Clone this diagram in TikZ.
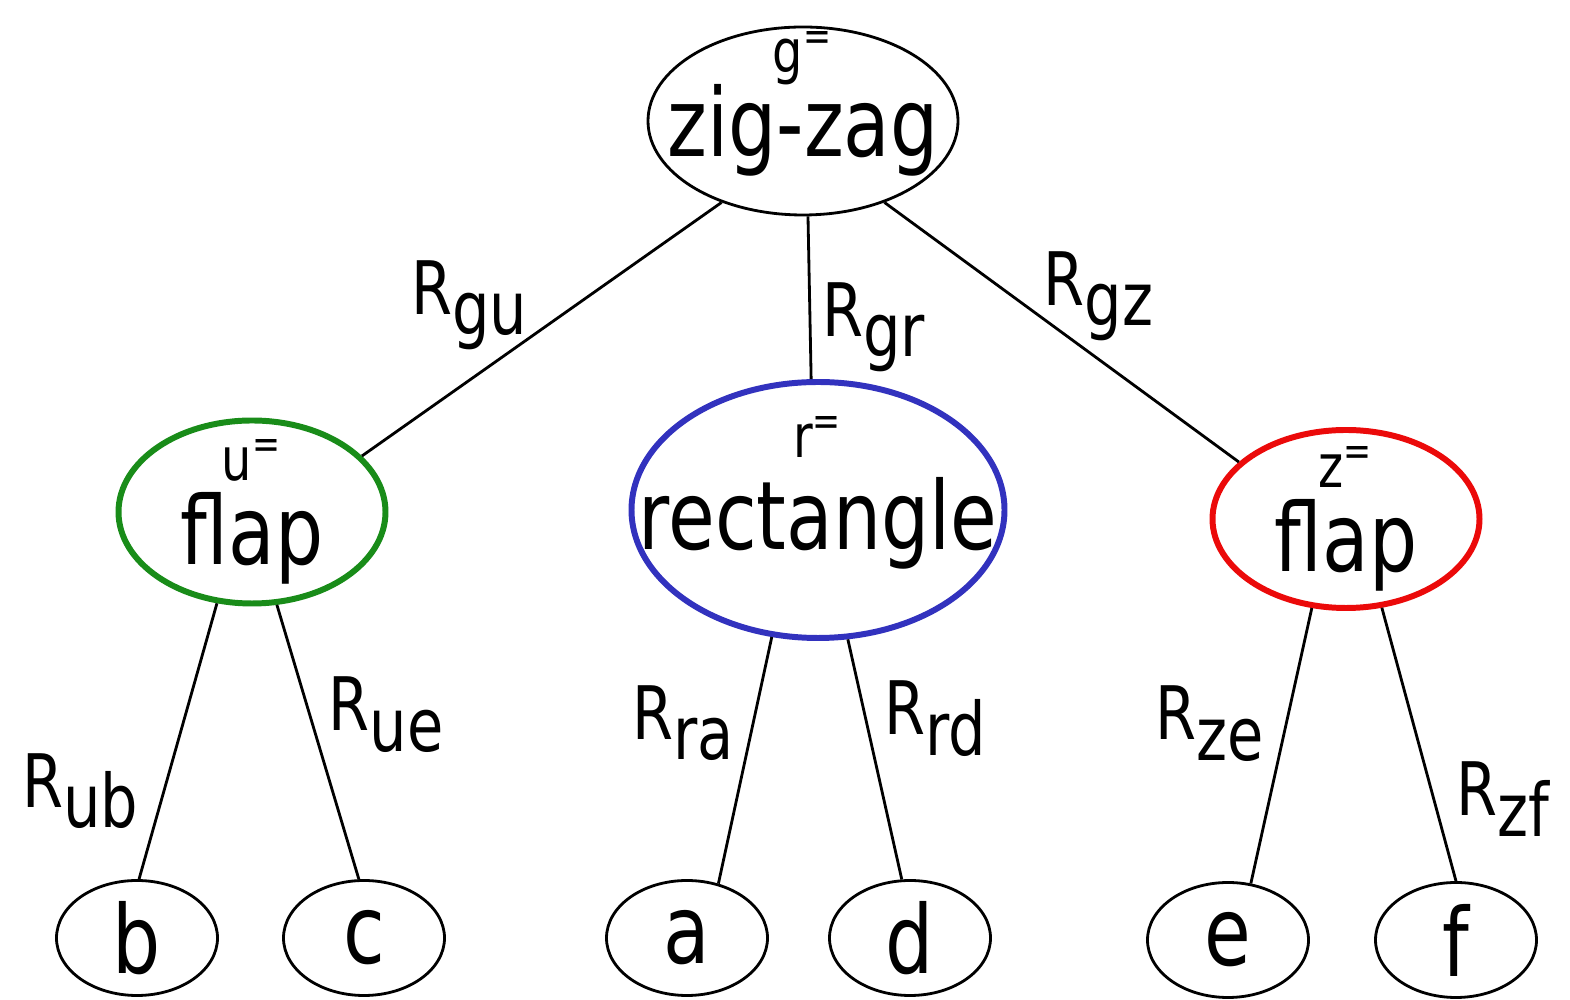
\documentclass[tikz,border=0pt]{standalone}
\usepackage{fontspec}
\setmainfont{DejaVu Sans}[FakeStretch=0.8]
\usepackage{xcolor}
\usetikzlibrary{shapes.geometric}

\definecolor{flapgreen}{RGB}{25,140,25}
\definecolor{rectblue}{RGB}{50,50,190}
\definecolor{flapred}{RGB}{235,10,10}

\newcommand{\rel}[1]{R\raisebox{-0.5ex}{#1}}
\newcommand{\kind}[1]{{\fontsize{17}{17}\selectfont #1\textsuperscript{=}}}

\begin{document}
\begin{tikzpicture}[thick,
    part/.style = {ellipse, draw, inner sep=0pt},
    parttext/.style = {align=center, inner sep=0pt,
                       font=\fontsize{27}{27}\selectfont},
    leaf/.style = {ellipse, draw, inner sep=0pt, minimum width=1.61cm,
                   minimum height=1.15cm, font=\fontsize{27}{27}\selectfont},
    rlabel/.style = {font=\fontsize{21}{21}\selectfont, inner sep=3pt}]
    \path[use as bounding box] (0,0) rectangle (15.7,-10);

    % shape and its parts
    \node[part, minimum width=3.1cm, minimum height=1.88cm] (g) at (8.03,-1.21) {};
    \node[part, draw=flapgreen, line width=1.7pt, minimum width=2.67cm,
          minimum height=1.83cm] (u) at (2.52,-5.12) {};
    \node[part, draw=rectblue, line width=1.7pt, minimum width=3.73cm,
          minimum height=2.56cm] (r) at (8.18,-5.10) {};
    \node[part, draw=flapred, line width=1.7pt, minimum width=2.67cm,
          minimum height=1.78cm] (z) at (13.46,-5.19) {};

    \node[parttext] (gtext) at ([yshift=0.17cm]g.center) {\kind{g}\\[-3pt] zig-zag};
    \node[parttext] (utext) at (u.center) {\kind{u}\\[-3pt] flap};
    \node[parttext] (rtext) at ([yshift=0.17cm]r.center) {\kind{r}\\[-1pt] rectangle};
    \node[parttext] (ztext) at (z.center) {\kind{z}\\[-3pt] flap};

    % leaves
    \node[leaf] (b) at (1.37,-9.38) {b};
    \node[leaf] (c) at (3.64,-9.38) {c};
    \node[leaf] (a) at (6.87,-9.38) {a};
    \node[leaf] (d) at (9.10,-9.38) {d};
    \node[leaf] (e) at (12.28,-9.40) {e};
    \node[leaf] (f) at (14.56,-9.40) {f};

    % relations
    \draw (g.-135) -- (u.27) node[rlabel, pos=0.53, above left, xshift=0.08cm, yshift=-0.25cm] {\rel{gu}};
    \draw (g.-87) -- (r.93) node[rlabel, pos=0.68, right] {\rel{gr}};
    \draw (g.-45) -- (z.152) node[rlabel, pos=0.45, above right, inner sep=1pt, xshift=-0.05cm, yshift=-0.27cm] {\rel{gz}};
    \draw (u.-111) -- (b.88) node[rlabel, pos=0.68, left, inner sep=7pt] {\rel{ub}};
    \draw (u.-75) -- (c.95) node[rlabel, pos=0.4, right, inner sep=5pt] {\rel{ue}};
    \draw (r.-110) -- (a.60) node[rlabel, pos=0.35, left, inner sep=5pt] {\rel{ra}};
    \draw (r.-77) -- (d.98) node[rlabel, pos=0.33, right, inner sep=5pt] {\rel{rd}};
    \draw (z.-111) -- (e.68) node[rlabel, pos=0.42, left, inner sep=6pt] {\rel{ze}};
    \draw (z.-68) -- (f.90) node[rlabel, pos=0.7, right, inner sep=6pt] {\rel{zf}};
\end{tikzpicture}
\end{document}
